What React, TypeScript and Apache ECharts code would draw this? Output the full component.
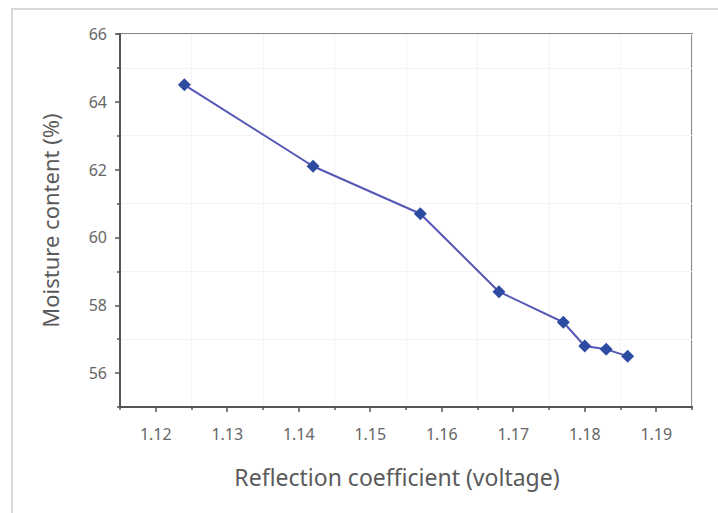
import React, { useEffect, useRef } from "react";
import * as echarts from "echarts";

const reflection = [1.124, 1.142, 1.157, 1.168, 1.177, 1.18, 1.183, 1.186];
const moisture = [64.5, 62.1, 60.7, 58.4, 57.5, 56.8, 56.7, 56.5];
const xTicks = [1.12, 1.13, 1.14, 1.15, 1.16, 1.17, 1.18, 1.19];
const yTicks = [56, 58, 60, 62, 64, 66];

const FONT = "'Noto Sans', 'DejaVu Sans', sans-serif";

export default function App() {
  const ref = useRef<HTMLDivElement>(null);
  useEffect(() => {
    if (!ref.current) return;
    const chart = echarts.init(ref.current, undefined, { renderer: "svg" });
    chart.setOption({
      animation: false,
      backgroundColor: "#ffffff",
      graphic: [
        {
          type: "rect",
          shape: { x: 12, y: 9, width: 800, height: 600 },
          style: { fill: "none", stroke: "#cccccc", lineWidth: 1.5 },
          silent: true,
          z: -1,
        },
      ],
      grid: {
        left: 120,
        top: 34,
        right: 26,
        bottom: 106,
        show: true,
        borderColor: "#8a8a8a",
        borderWidth: 2,
        backgroundColor: "transparent",
      },
      xAxis: [
        {
          type: "value",
          min: 1.115,
          max: 1.195,
          name: "Reflection coefficient (voltage)",
          nameLocation: "middle",
          nameGap: 58,
          nameTextStyle: { fontFamily: FONT, fontSize: 23, color: "#5a5a5a", padding: [0, 18, 0, 0] },
          axisLine: { show: true, lineStyle: { color: "#555", width: 2 } },
          axisTick: { show: true, length: 5, lineStyle: { color: "#555", width: 1.5 }, customValues: xTicks },
          axisLabel: {
            fontFamily: FONT,
            fontSize: 16,
            color: "#666",
            margin: 19,
            customValues: xTicks,
            formatter: (v: number) => v.toFixed(2),
          },
          splitLine: { show: false },
        },
        {
          type: "value",
          position: "bottom",
          min: 1.115,
          max: 1.195,
          interval: 0.01,
          axisLine: { show: false },
          axisTick: { show: true, length: 3, lineStyle: { color: "#555", width: 1.5 } },
          axisLabel: { show: false },
          splitLine: { show: true, lineStyle: { color: "#f4f4f4", width: 1 } },
        },
      ],
      yAxis: [
        {
          type: "value",
          min: 55,
          max: 66,
          name: "Moisture content (%)",
          nameLocation: "middle",
          nameGap: 59,
          nameTextStyle: { fontFamily: FONT, fontSize: 22, color: "#5a5a5a" },
          axisLine: { show: true, lineStyle: { color: "#555", width: 2 } },
          axisTick: { show: true, length: 5, lineStyle: { color: "#555", width: 1.5 }, customValues: yTicks },
          axisLabel: {
            fontFamily: FONT,
            fontSize: 16,
            color: "#666",
            margin: 13,
            customValues: yTicks,
          },
          splitLine: { show: false },
        },
        {
          type: "value",
          position: "left",
          min: 55,
          max: 66,
          interval: 2,
          axisLine: { show: false },
          axisTick: { show: true, length: 3, lineStyle: { color: "#555", width: 1.5 } },
          axisLabel: { show: false },
          splitLine: { show: true, lineStyle: { color: "#f4f4f4", width: 1 } },
        },
      ],
      series: [
        {
          type: "line",
          data: reflection.map((x, i) => [x, moisture[i]]),
          xAxisIndex: 0,
          yAxisIndex: 0,
          symbol: "diamond",
          symbolSize: 13,
          lineStyle: { color: "#5457b5", width: 2 },
          itemStyle: { color: "#2e4ba2" },
          z: 5,
        },
      ],
    });
    return () => chart.dispose();
  }, []);
  return (
    <div
      ref={ref}
      style={{ position: "absolute", left: 0, top: 0, width: 718, height: 513 }}
    />
  );
}
